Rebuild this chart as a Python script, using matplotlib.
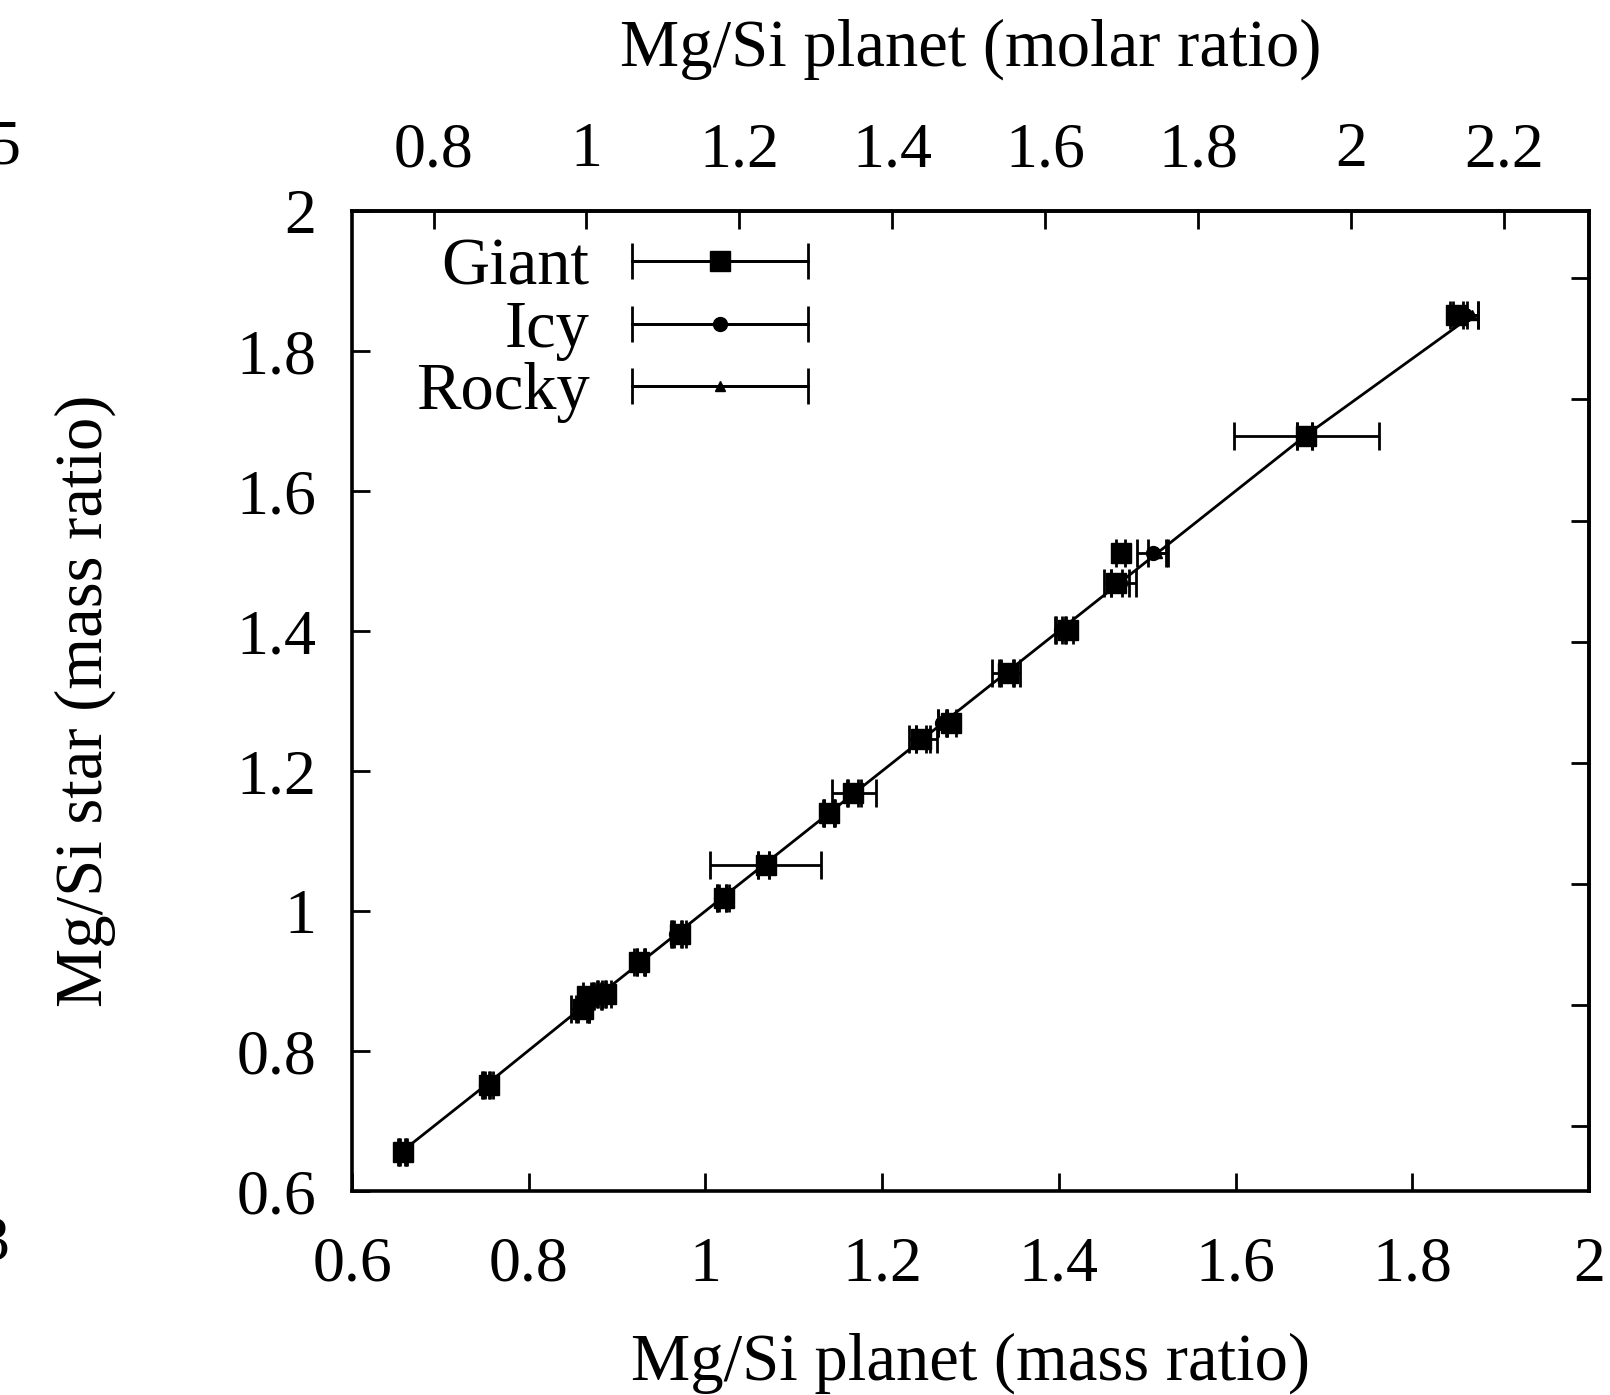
import numpy as np
import matplotlib.pyplot as plt
from matplotlib.container import ErrorbarContainer
from matplotlib.legend_handler import HandlerErrorbar
from matplotlib.ticker import FormatStrFormatter

# style
plt.rcParams['font.family'] = ['Liberation Serif', 'DejaVu Serif']
TICK_SIZE = 46
LABEL_SIZE = 48
LW = 2.0
MASS_TO_MOLAR = 28.0855 / 24.305  # Mg/Si mass ratio -> molar ratio

# data (Mg/Si planet vs. Mg/Si star, mass ratios)
giant_x = [0.658, 0.755, 0.862, 0.866, 0.888, 0.925, 0.971, 1.021, 1.068, 1.140,
           1.167, 1.244, 1.278, 1.342, 1.410, 1.465, 1.470, 1.680, 1.850]
giant_y = [0.656, 0.751, 0.860, 0.878, 0.882, 0.927, 0.967, 1.018, 1.066, 1.140,
           1.168, 1.246, 1.268, 1.340, 1.402, 1.469, 1.511, 1.678, 1.851]
giant_xerr = [0.004, 0.005, 0.006, 0.005, 0.005, 0.006, 0.007, 0.006, 0.063, 0.007,
              0.006, 0.006, 0.006, 0.007, 0.006, 0.006, 0.005, 0.082, 0.007]

icy_x = [0.657, 0.752, 0.860, 0.878, 0.882, 0.927, 0.967, 1.018, 1.066, 1.140,
         1.168, 1.246, 1.268, 1.340, 1.402, 1.469, 1.506, 1.678, 1.860]
icy_y = giant_y
icy_xerr = [0.004, 0.004, 0.006, 0.005, 0.005, 0.005, 0.006, 0.005, 0.006, 0.006,
            0.025, 0.016, 0.005, 0.016, 0.006, 0.018, 0.018, 0.008, 0.014]

rocky_x = [0.656, 0.751, 0.858, 0.878, 0.882, 0.927, 0.967, 1.018, 1.066, 1.140,
           1.168, 1.246, 1.268, 1.340, 1.402, 1.469, 1.511, 1.678, 1.868]
rocky_y = giant_y
rocky_xerr = [0.004, 0.004, 0.010, 0.004, 0.004, 0.005, 0.005, 0.005, 0.006, 0.006,
              0.008, 0.008, 0.005, 0.008, 0.005, 0.010, 0.010, 0.008, 0.006]

mass_ticks = [0.6, 0.8, 1.0, 1.2, 1.4, 1.6, 1.8, 2.0]
molar_ticks = [0.8, 1.0, 1.2, 1.4, 1.6, 1.8, 2.0, 2.2]

fig = plt.figure(figsize=(16.1, 13.95), dpi=100)
ax = fig.add_axes([352 / 1610, 1 - 1191 / 1395, (1589 - 352) / 1610, (1191 - 211) / 1395])

err_kw = dict(color='black', ecolor='black', elinewidth=LW, capsize=10, capthick=LW)

ax.errorbar(rocky_x, rocky_y, xerr=rocky_xerr, fmt='^-', ms=7, lw=LW, zorder=2, **err_kw)
ax.errorbar(icy_x, icy_y, xerr=icy_xerr, fmt='o', ms=10, zorder=3, **err_kw)
ax.errorbar(giant_x, giant_y, xerr=giant_xerr, fmt='s', ms=15, zorder=4, **err_kw)

# legend entries (gnuplot-like: line + error bar + marker)
leg_kw = dict(err_kw, capsize=13)
handles = []
for lab, mk, ms in [('Giant', 's', 15), ('Icy', 'o', 10), ('Rocky', '^', 7)]:
    h = ax.errorbar([np.nan], [np.nan], xerr=[np.nan], fmt=mk + '-', ms=ms, lw=LW,
                    label=lab, **leg_kw)
    handles.append(h)

ax.set_xlim(0.6, 2.0)
ax.set_ylim(0.6, 2.0)
ax.set_xticks(mass_ticks)
ax.set_yticks(mass_ticks)
ax.xaxis.set_major_formatter(FormatStrFormatter('%g'))
ax.yaxis.set_major_formatter(FormatStrFormatter('%g'))
ax.tick_params(axis='both', direction='in', length=13, width=LW,
               labelsize=TICK_SIZE, top=False, right=False)
ax.tick_params(axis='x', pad=33)
ax.tick_params(axis='y', pad=26)
for s in ax.spines.values():
    s.set_linewidth(2.6)

# molar ratio axes
top = ax.secondary_xaxis('top', functions=(lambda m: m * MASS_TO_MOLAR,
                                           lambda c: c / MASS_TO_MOLAR))
top.set_xticks(molar_ticks)
top.xaxis.set_major_formatter(FormatStrFormatter('%g'))
top.tick_params(direction='in', length=13, width=LW, labelsize=TICK_SIZE, pad=22)
top.spines['top'].set_linewidth(2.6)
top.set_xlabel('Mg/Si planet (molar ratio)', fontsize=LABEL_SIZE, labelpad=41)

right = ax.secondary_yaxis('right', functions=(lambda m: m * MASS_TO_MOLAR,
                                               lambda c: c / MASS_TO_MOLAR))
right.set_yticks(molar_ticks)
right.tick_params(direction='in', length=13, width=LW, labelright=False)
right.spines['right'].set_linewidth(2.6)

ax.set_xlabel('Mg/Si planet (mass ratio)', fontsize=LABEL_SIZE, labelpad=27)
ax.set_ylabel('Mg/Si star (mass ratio)', fontsize=LABEL_SIZE, labelpad=86)

leg = ax.legend(handles=handles, loc='upper left', bbox_to_anchor=(0.030, 1.0),
                borderaxespad=0, markerfirst=False, frameon=False,
                fontsize=LABEL_SIZE, handlelength=2.65, handletextpad=0.63,
                labelspacing=0.02, numpoints=1,
                handler_map={ErrorbarContainer: HandlerErrorbar(xerr_size=1.325)})
try:
    leg._legend_handle_box.get_children()[0].align = 'right'
except Exception:
    pass

# fragments of the neighbouring panel, cut by the crop
fig.text(20 / 1610, 1 - 149 / 1395, '5', ha='right', va='center', fontsize=TICK_SIZE)
fig.text(10 / 1610, 1 - 1245 / 1395, '3', ha='right', va='center', fontsize=TICK_SIZE)

fig.savefig('out.png', dpi=100)
